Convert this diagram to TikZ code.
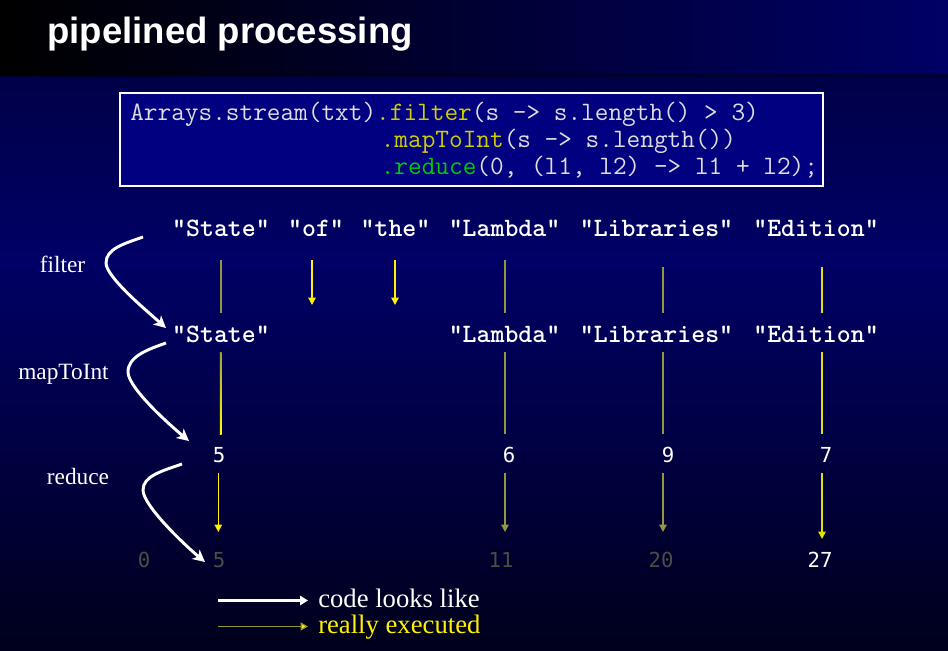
\documentclass[tikz,border=0pt]{standalone}
\usepackage{fontspec}
\usetikzlibrary{arrows.meta}
\newfontfamily\numfont{DejaVu Sans Mono}
\newfontfamily\titlefont{Liberation Sans}
\newfontfamily\labelfont[Ligatures=NoCommon]{Liberation Serif}

\definecolor{navy}{RGB}{0,0,102}
\definecolor{navydark}{RGB}{0,0,28}
\definecolor{navytop}{RGB}{0,0,72}
\definecolor{codebg}{RGB}{0,0,128}
\definecolor{codetext}{RGB}{222,222,222}
\definecolor{codeyellow}{RGB}{206,206,0}
\definecolor{codegreen}{RGB}{0,204,0}
\definecolor{skipped}{RGB}{150,150,62}
\definecolor{passed}{RGB}{225,225,0}
\definecolor{dimnum}{RGB}{76,76,66}

\tikzset{
  codeline/.style={anchor=base west, inner sep=0pt, text=codetext,
    font=\ttfamily\fontsize{19.9pt}{22pt}\selectfont},
  word/.style={anchor=base, inner sep=0pt, text=white,
    font=\ttfamily\bfseries\fontsize{19.9pt}{22pt}\selectfont},
  num/.style={anchor=base, inner sep=0pt, text=white,
    font=\numfont\fontsize{15.5pt}{18pt}\selectfont},
  dimnumber/.style={num, text=dimnum},
  oplabel/.style={anchor=base, inner sep=0pt, text=white,
    font=\labelfont\fontsize{17.5pt}{20pt}\selectfont},
  legendtext/.style={anchor=base west, inner sep=0pt,
    font=\labelfont\fontsize{20pt}{24pt}\selectfont},
  tip/.style={-{Triangle[length=5.5pt,width=5.5pt]}},
  olive/.style={draw=skipped, line width=1.1pt},
  bright/.style={draw=yellow, line width=1.1pt},
  keep/.style={draw=passed, line width=1.1pt},
  flow/.style={draw=white, line width=2.2pt,
    -{Stealth[length=9pt,width=9pt,inset=2.5pt]}},
}

\begin{document}
\begin{tikzpicture}[x=0.75pt, y=-0.75pt]
\useasboundingbox (0,0) rectangle (948,650);

% backgrounds
\shade[top color=navytop, bottom color=navy] (0,75) rectangle (948,260);
\shade[top color=navy, bottom color=navydark] (0,260) rectangle (948,650);
\shade[left color=black, right color=navy] (0,0) rectangle (948,75);
\fill[black, opacity=0.35] (0,74) rectangle (948,77);

% title
\node[anchor=base west, inner sep=0pt, text=white,
  font=\titlefont\bfseries\fontsize{27.4pt}{30pt}\selectfont] (title) at (47,43)
  {pipelined processing};

% code box
\node[draw=white, line width=1.3pt, fill=codebg, inner sep=0pt,
  minimum width=527.25pt, minimum height=69.75pt, anchor=north west] (codebox) at (119,92) {};
\node[codeline] (c1) at (130,120)
  {Arrays.stream(txt)\textcolor{codeyellow}{.filter}(s -> s.length() > 3)};
\node[codeline] (c2) at (380.5,147)
  {\textcolor{codeyellow}{.mapToInt}(s -> s.length())};
\node[codeline] (c3) at (380.5,174)
  {\textcolor{codegreen}{.reduce}(0, (l1, l2) -> l1 + l2);};

% input words
\node[word] (w1) at (221,236) {"State"};
\node[word] (w2) at (316,236) {"of"};
\node[word] (w3) at (395.5,236) {"the"};
\node[word] (w4) at (504.5,236) {"Lambda"};
\node[word] (w5) at (656.5,236) {"Libraries"};
\node[word] (w6) at (816,236) {"Edition"};

% filtered words
\node[word] (f1) at (221,342) {"State"};
\node[word] (f4) at (504.5,342) {"Lambda"};
\node[word] (f5) at (656.5,342) {"Libraries"};
\node[word] (f6) at (816,342) {"Edition"};

% lengths
\node[num] (m1) at (219,462) {5};
\node[num] (m4) at (509,462) {6};
\node[num] (m5) at (668,462) {9};
\node[num] (m6) at (826,462) {7};

% running sums
\node[dimnumber] (s0) at (144,567) {0};
\node[dimnumber] (s1) at (219,567) {5};
\node[dimnumber] (s4) at (501,567) {11};
\node[dimnumber] (s5) at (661,567) {20};
\node[num] (s6) at (820,567) {27};

% operation labels
\node[oplabel] (lfilter) at (62.5,272.5) {filter};
\node[oplabel] (lmap) at (63.5,379) {mapToInt};
\node[oplabel] (lreduce) at (78,484) {reduce};

% filter step
\draw[olive] (w1.base) ++(0,24) -- ++(0,53);
\draw[bright, tip] (w2.base) ++(-4,24) -- ++(0,45);
\draw[bright, tip] (w3.base) ++(-0.5,24) -- ++(0,45);
\draw[olive] (w4.base) ++(0.5,24) -- ++(0,53);
\draw[olive] (w5.base) ++(6.5,31) -- ++(0,46);
\draw[keep] (w6.base) ++(6,31) -- ++(0,46);

% mapToInt step
\shade[top color=skipped, bottom color=yellow] (f1.base) ++(-1.2,10) rectangle ++(1.7,82);
\draw[olive] (f4.base) ++(0.5,10) -- ++(0,82);
\draw[olive] (f5.base) ++(6.5,10) -- ++(0,82);
\draw[keep] (f6.base) ++(6,10) -- ++(0,82);

% reduce step
\draw[bright, tip] (m1.base) ++(-0.7,11) -- ++(0,59);
\draw[olive, tip] (m4.base) ++(-4,11) -- ++(0,59);
\draw[olive, tip] (m5.base) ++(-5,11) -- ++(0,59);
\draw[keep, tip] (m6.base) ++(-4,11) -- ++(0,66);

% apparent flow of the code
\coordinate (a1) at (143,237);
\coordinate (b1) at (166,328);
\coordinate (a2) at (166,343);
\coordinate (b2) at (189,441);
\coordinate (a3) at (182,464);
\coordinate (b3) at (205,562);
\draw[flow] (a1) .. controls (123,244) and (106,249) .. (106,263)
  .. controls (106,277) and (147,311) .. (b1);
\draw[flow] (a2) .. controls (146,350) and (128,357) .. (128,372)
  .. controls (128,388) and (171,426) .. (b2);
\draw[flow] (a3) .. controls (162,471) and (143,476) .. (143,490)
  .. controls (143,506) and (187,547) .. (b3);

% legend
\coordinate (k1) at (218,600.5);
\coordinate (k2) at (218,626.5);
\node[legendtext, text=white] (t1) at (318,607) {code looks like};
\node[legendtext, text=yellow] (t2) at (318,633) {really executed};
\draw[draw=white, line width=2.4pt, -{Triangle[length=6pt,width=7pt]}]
  (k1) -- ([xshift=-7.5pt]k1 -| t1.west);
\draw[olive, line width=0.9pt, -{Triangle[length=5.5pt,width=6pt,fill=yellow]}]
  (k2) -- ([xshift=-7.5pt]k2 -| t2.west);
\end{tikzpicture}
\end{document}
